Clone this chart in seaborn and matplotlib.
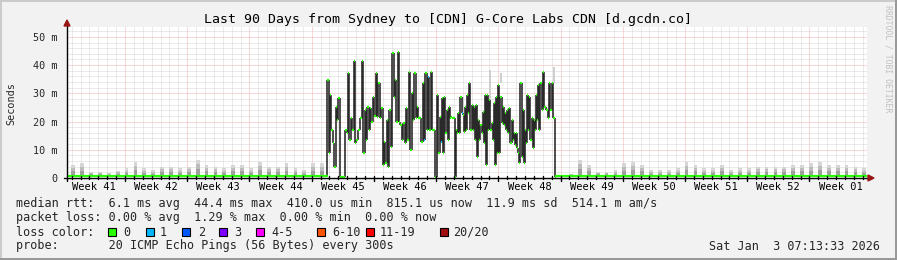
import numpy as np
import pandas as pd
import matplotlib
matplotlib.use("Agg")
import matplotlib.pyplot as plt
import seaborn as sns
from matplotlib.patches import Rectangle, Polygon
from matplotlib.transforms import blended_transform_factory

# ---------------- data ----------------
title = "Last 90 Days from Sydney to [CDN] G-Core Labs CDN [d.gcdn.co]"
week_labels = ["Week 41", "Week 42", "Week 43", "Week 44", "Week 45", "Week 46",
               "Week 47", "Week 48", "Week 49", "Week 50", "Week 51", "Week 52", "Week 01"]
first_week_start_day = -0.48      # days relative to graph start
span_days = 90
y_top_ms = 53.5
y_tick_values = [0, 10, 20, 30, 40, 50]
y_tick_labels = ["0", "10 m", "20 m", "30 m", "40 m", "50 m"]

# quiet period before the jump (one median per day, ms)
pre_median_ms = [0.65, 0.65, 0.6, 0.65, 0.7, 0.65, 0.6, 0.65, 0.7, 0.65,
                 0.65, 0.6, 0.65, 0.7, 0.65, 0.65, 0.6, 0.65, 0.7, 0.65,
                 0.65, 0.6, 0.65, 0.65, 0.7, 0.65, 0.6, 0.65, 0.7, 0.65]
pre_smoke_peak_ms = [4.6, 5.4, 2.2, 2.2, 1.7, 2.5, 3.4, 5.8, 3.4, 2.8,
                     4.0, 4.0, 3.4, 4.0, 6.4, 4.6, 4.0, 3.4, 4.6, 4.6,
                     3.4, 5.8, 4.0, 4.0, 5.2, 3.4, 2.8, 5.2, 5.2]
pre_smoke_first_day = 0.7

# high-latency period, three stretches separated by short drops
high_a_start_day, high_a_end_day = 29.28, 41.40
high_a_ms = [34.8, 8.7, 29.4, 17.0, 12.3, 4.0, 25.3, 20.6, 28.3, 0.47,
             0.47, 0.47, 0.47, 17.0, 16.0, 37.1, 13.5, 21.2, 17.0, 41.3,
             12.3, 13.5, 17.0, 17.0, 21.2, 41.3, 8.7, 24.1, 13.5, 25.3,
             17.0, 24.7, 20.0, 28.8, 22.0, 37.1, 21.7, 33.6, 21.2, 24.7,
             4.6, 12.9, 5.2, 20.6, 4.0, 24.1, 11.1, 44.2, 28.8, 34.8,
             20.0, 44.8, 20.0, 18.8, 13.5, 19.4, 12.3, 24.7, 13.5, 37.7,
             9.9, 30.0, 20.6, 37.1, 21.2, 25.3, 21.2, 21.2, 12.9, 33.6,
             13.5, 37.1, 17.0, 35.9, 17.0, 37.7, 17.0, 17.0]
high_a_loss1 = [70, 73]
high_b_start_day, high_b_end_day = 41.40, 43.76
high_b_ms = [0.47, 0.47, 29.4, 8.7, 21.7, 12.9, 28.3, 8.7, 28.8, 15.8,
             24.1, 13.5, 25.3, 21.2, 21.7, 21.2, 21.2, 0.47]
high_b_loss1 = [5]
high_c_start_day, high_c_end_day = 43.76, 55.01
high_c_ms = [17.0, 15.8, 22.9, 15.8, 28.8, 22.9, 22.3, 16.4, 25.3, 17.0,
             29.4, 22.9, 33.6, 17.0, 25.9, 17.0, 25.3, 13.5, 25.9, 7.6,
             20.6, 13.5, 18.8, 15.8, 23.5, 12.3, 29.4, 4.6, 29.4, 17.0,
             27.7, 17.0, 19.4, 13.5, 26.5, 4.6, 28.8, 8.7, 33.0, 8.7,
             28.8, 19.4, 25.3, 18.8, 22.9, 17.0, 24.1, 15.8, 24.7, 12.3,
             20.6, 13.5, 15.8, 11.7, 15.8, 10.5, 8.7, 5.2, 33.6, 7.6,
             24.1, 5.2, 17.0, 12.3, 29.4, 17.0, 28.8, 13.5, 21.2, 10.5,
             20.6, 17.0, 29.4, 20.6, 33.0, 17.0, 33.6, 24.1, 37.7, 25.3,
             25.3, 24.1, 24.1, 21.2, 33.6, 24.1, 33.6, 21.2, 21.2, 0.47]
high_c_loss1 = [5]
# light smoke above some of the high peaks: day, low ms, high ms
high_smoke_day = [34.76, 44.55, 47.6, 48.8, 54.8]
high_smoke_lo = [28.8, 22.7, 25.3, 33.6, 33.6]
high_smoke_hi = [35.9, 28.8, 38.3, 37.1, 39.5]

# quiet period after the jump
post_first_day = 55.01
post_median_ms = [0.65, 0.7, 0.65, 0.65, 0.6, 0.7, 0.65, 0.7, 0.65, 0.6,
                  0.65, 0.7, 0.65, 0.65, 0.7, 0.6, 0.65, 0.7, 0.65, 0.65,
                  0.6, 0.65, 0.7, 0.65, 0.65, 0.6, 0.7, 0.65, 0.65, 0.7,
                  0.65, 0.6, 0.65, 0.7, 0.65]
post_smoke_peak_ms = [1.5, 6.4, 4.6, 2.2, 2.2, 2.8, 5.2, 5.8, 4.6, 2.8,
                      2.8, 2.8, 3.4, 5.8, 4.6, 3.4, 3.4, 4.6, 2.8, 3.4,
                      3.4, 4.0, 4.0, 4.0, 4.0, 4.6, 4.6, 5.2, 5.8, 4.6,
                      4.6, 4.6, 4.0, 3.4]
post_smoke_first_day = 56.7

loss_names = ["0", "1", "2", "3", "4-5", "6-10", "11-19", "20/20"]
loss_colors = ["#26ff00", "#00b8ff", "#0059ff", "#7e00ff", "#ff00ff",
               "#ff5500", "#ff0000", "#a01010"]

legend_line1 = "median rtt:  6.1 ms avg  44.4 ms max  410.0 us min  815.1 us now  11.9 ms sd  514.1 m am/s"
legend_line2 = "packet loss: 0.00 % avg  1.29 % max  0.00 % min  0.00 % now"
legend_line3 = "loss color:"
legend_line4 = "probe:       20 ICMP Echo Pings (56 Bytes) every 300s"
stamp = "Sat Jan  3 07:13:33 2026"
watermark = "RRDTOOL / TOBI OETIKER"

# ---------------- style ----------------
sns.set_theme(style="white")
plt.rcParams['font.family'] = ['DejaVu Sans Mono', 'DejaVu Sans']

W, H = 897, 260
L, R, B, T = 67, 867, 178, 27

fig = plt.figure(figsize=(W / 100, H / 100), dpi=100)
fig.patch.set_facecolor('#f2f2f2')
ax = fig.add_axes([L / W, (H - B) / H, (R - L) / W, (B - T) / H])
ax.set_facecolor('white')
ax.set_xlim(0, span_days)
ax.set_ylim(0, y_top_ms)
for s in ax.spines.values():
    s.set_visible(False)

def fx(x):
    return x / W

def fy(y):
    return (H - y) / H

# grid
day_lines = np.arange(first_week_start_day, span_days + 0.01, 1.0)
day_lines = day_lines[(day_lines > 0) & (day_lines < span_days)]
week_starts = np.arange(first_week_start_day, span_days + 0.01, 7.0)
week_starts = week_starts[(week_starts > 0) & (week_starts < span_days)]
minor_day = [d for d in day_lines if np.min(np.abs(week_starts - d)) > 0.01]
gk = dict(linestyles=(0, (1, 1)), lw=0.72)
ax.vlines(minor_day, 0, y_top_ms, colors='#d6d6d6', zorder=0.5, **gk)
ax.vlines(week_starts, 0, y_top_ms, colors='#f4b0b0', zorder=0.6, **gk)
h_minor = [v for v in np.arange(2, y_top_ms, 2) if v % 10 != 0]
ax.hlines(h_minor, 0, span_days, colors='#d6d6d6', zorder=0.5, **gk)
ax.hlines([10, 20, 30, 40, 50], 0, span_days, colors='#f4b0b0', zorder=0.6, **gk)

# step timing
pre_start = np.arange(len(pre_median_ms), dtype=float)
post_start = np.append([post_first_day], np.arange(56, 56 + len(post_median_ms) - 1, dtype=float))

def stretch(start, end, vals, loss1):
    edges = np.linspace(start, end, len(vals) + 1)
    cols = [loss_colors[1] if i in loss1 else loss_colors[0] for i in range(len(vals))]
    return edges[:-1], edges[1:], np.array(vals), cols

A = stretch(high_a_start_day, high_a_end_day, high_a_ms, high_a_loss1)
Bs = stretch(high_b_start_day, high_b_end_day, high_b_ms, high_b_loss1)
C = stretch(high_c_start_day, high_c_end_day, high_c_ms, high_c_loss1)

# smoke in quiet periods
def smoke(days, peaks, base, width=0.42):
    peaks = np.array(peaks)
    for frac, col in [(1.0, '#d6d6d6'), (0.72, '#bcbcbc'), (0.42, '#a0a0a0')]:
        ax.bar(days, (peaks - base) * frac, bottom=base, width=width, color=col,
               linewidth=0, zorder=1.5)

smoke(pre_smoke_first_day + np.arange(len(pre_smoke_peak_ms)), pre_smoke_peak_ms, 0.65)
smoke(post_smoke_first_day + np.arange(len(post_smoke_peak_ms)), post_smoke_peak_ms, 0.65)
ax.bar(high_smoke_day, np.array(high_smoke_hi) - np.array(high_smoke_lo), bottom=high_smoke_lo,
       width=0.2, color='#cfcfcf', linewidth=0, zorder=1.5)

# quiet-period medians (green step lines)
df_pre = pd.DataFrame({'day': np.append(pre_start, high_a_start_day),
                       'ms': np.append(pre_median_ms, pre_median_ms[-1])})
df_post = pd.DataFrame({'day': np.append(post_start, span_days),
                        'ms': np.append(post_median_ms, post_median_ms[-1])})
for d in (df_pre, df_post):
    sns.lineplot(data=d, x='day', y='ms', drawstyle='steps-post', color=loss_colors[0],
                 lw=1.6, estimator=None, sort=False, ax=ax, zorder=3)

# high-latency period: dark transitions + loss-coloured medians
hs = np.concatenate([A[0], Bs[0], C[0]])
he = np.concatenate([A[1], Bs[1], C[1]])
hv = np.concatenate([A[2], Bs[2], C[2]])
hc = A[3] + Bs[3] + C[3]
prev_v = np.concatenate([[pre_median_ms[-1]], hv[:-1]])
ax.vlines(hs, np.minimum(prev_v, hv), np.maximum(prev_v, hv), colors='#1e1e1e', lw=1.1, zorder=2)
ax.vlines([high_c_end_day], post_median_ms[0], hv[-1], colors='#1e1e1e', lw=1.1, zorder=2)
ax.hlines(hv, hs, he, colors=hc, lw=1.6, zorder=3)

# axes lines and arrows
ax.set_xticks([])
ax.set_yticks(y_tick_values, labels=y_tick_labels)
ax.tick_params(axis='y', length=2, width=1, color='black', pad=4.5, labelsize=7.3)
ax.set_xlabel('')
ax.set_ylabel('')
k = dict(transform=fig.transFigure, color='black', lw=1, clip_on=False, zorder=6)
fig.add_artist(plt.Line2D([fx(L - 3), fx(870)], [fy(B), fy(B)], **k))
fig.add_artist(plt.Line2D([fx(L), fx(L)], [fy(B + 3), fy(24)], **k))
fig.add_artist(Polygon([(fx(868), fy(175)), (fx(874), fy(178)), (fx(868), fy(181))],
                       closed=True, transform=fig.transFigure, color='#991515', zorder=7))
fig.add_artist(Polygon([(fx(L - 3), fy(26)), (fx(L), fy(20)), (fx(L + 3), fy(26))],
                       closed=True, transform=fig.transFigure, color='#991515', zorder=7))
for ws in week_starts:
    xp = L + ws / span_days * (R - L)
    fig.add_artist(plt.Line2D([fx(xp), fx(xp)], [fy(B - 2), fy(B + 3)], **k))
for dl in minor_day:
    xp = L + dl / span_days * (R - L)
    fig.add_artist(plt.Line2D([fx(xp), fx(xp)], [fy(B - 2), fy(B + 1)], **k))

# week labels
trans = blended_transform_factory(ax.transData, fig.transFigure)
for i, lab in enumerate(week_labels):
    ax.text(first_week_start_day + 7 * i + 3.5, fy(187), lab, transform=trans,
            ha='center', va='center', fontsize=7.5, color='black')

# texts
fig.text(fx(447.5), fy(19), title, ha='center', va='center', fontsize=9.5, color='black')
fig.text(fx(11), fy(104), "Seconds", rotation=90, ha='center', va='center', fontsize=7.3)
fig.text(fx(888), fy(59), watermark, rotation=270, ha='center', va='center',
         fontsize=5.9, color='#c0c0c0')
fs = 8.5
fig.text(fx(16), fy(204), legend_line1, ha='left', va='center', fontsize=fs)
fig.text(fx(16), fy(218), legend_line2, ha='left', va='center', fontsize=fs)
fig.text(fx(16), fy(232), legend_line3, ha='left', va='center', fontsize=fs)
fig.text(fx(16), fy(246), legend_line4, ha='left', va='center', fontsize=fs)
fig.text(fx(880), fy(246), stamp, ha='right', va='center', fontsize=fs)

box_x = [108, 146, 182, 219, 256, 317, 366, 440]
lab_x = [123, 160, 198, 234, 271, 332, 380, 453]
for bx, lx, name, col in zip(box_x, lab_x, loss_names, loss_colors):
    fig.add_artist(Rectangle((fx(bx), fy(236)), 8 / W, 8 / H, transform=fig.transFigure,
                             facecolor=col, edgecolor='black', lw=0.8))
    fig.text(fx(lx), fy(232), name, ha='left', va='center', fontsize=fs)

# 3-D frame
fig.add_artist(Rectangle((0, 1 - 2 / H), 1, 2 / H, transform=fig.transFigure, color='#cbcbcb', lw=0))
fig.add_artist(Rectangle((0, 0), 2 / W, 1, transform=fig.transFigure, color='#cbcbcb', lw=0))
fig.add_artist(Rectangle((0, 0), 1, 2 / H, transform=fig.transFigure, color='#999999', lw=0))
fig.add_artist(Rectangle((1 - 2 / W, 0), 2 / W, 1, transform=fig.transFigure, color='#999999', lw=0))

fig.savefig("out.png", dpi=100, facecolor=fig.get_facecolor())
